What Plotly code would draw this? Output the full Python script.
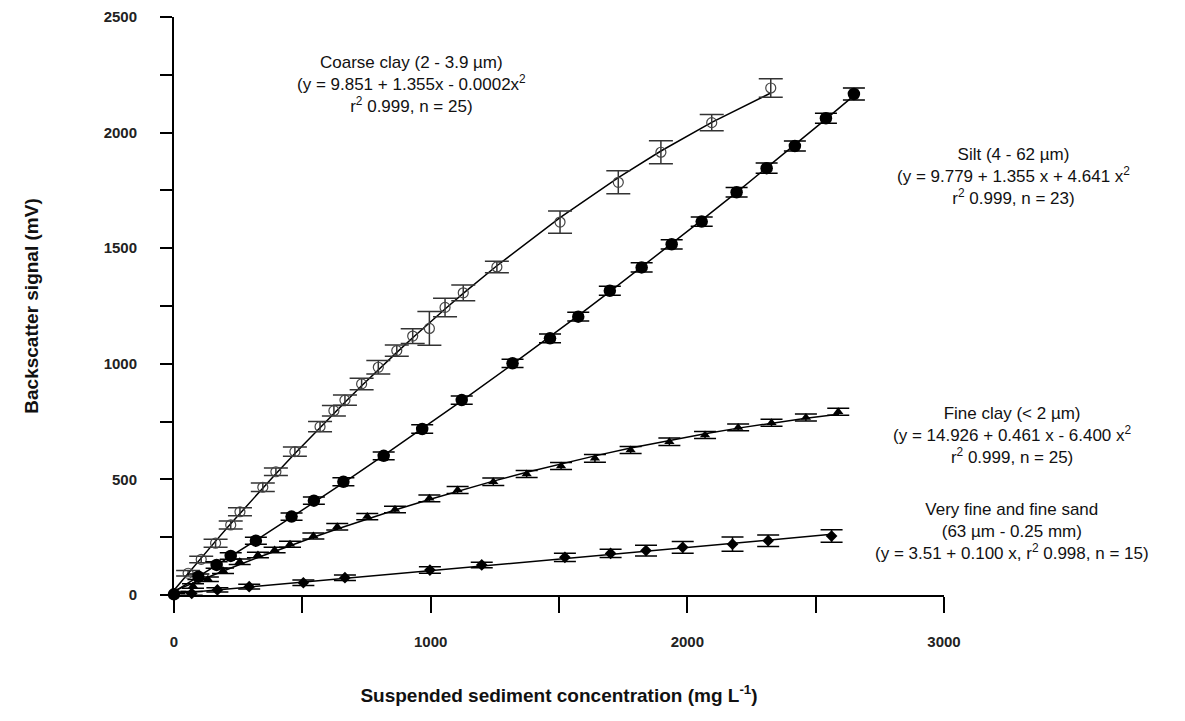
import numpy as np
import plotly.graph_objects as go

# ---- data ----
coarse_x = [0, 55, 106, 162, 221, 257, 346, 397, 471, 569, 623, 666, 731, 796, 868, 930, 995, 1056, 1127, 1258, 1504, 1731, 1897, 2095, 2325]
coarse_y = [5, 94, 154, 224, 303, 360, 466, 533, 620, 728, 797, 843, 913, 985, 1057, 1120, 1153, 1244, 1307, 1419, 1613, 1785, 1915, 2043, 2193]
coarse_err = [10, 12, 14, 17, 17, 17, 18, 16, 20, 22, 23, 22, 25, 29, 24, 32, 73, 40, 34, 25, 48, 50, 50, 35, 40]

silt_x = [0, 95, 166, 221, 319, 458, 545, 660, 817, 967, 1121, 1319, 1465, 1575, 1698, 1822, 1939, 2056, 2192, 2309, 2419, 2540, 2649]
silt_y = [3, 79, 130, 169, 235, 339, 408, 490, 602, 718, 843, 1002, 1110, 1204, 1316, 1417, 1517, 1615, 1742, 1846, 1942, 2062, 2167]
silt_err = [8, 12, 14, 14, 15, 16, 16, 17, 17, 18, 18, 18, 19, 19, 19, 20, 20, 20, 21, 22, 22, 22, 26]

fine_x = [0, 74, 132, 191, 256, 327, 392, 452, 543, 636, 753, 861, 995, 1105, 1244, 1374, 1508, 1640, 1779, 1930, 2069, 2198, 2328, 2462, 2588]
fine_y = [2, 39, 68, 105, 144, 173, 195, 219, 255, 295, 339, 370, 418, 454, 490, 523, 558, 591, 627, 663, 692, 725, 745, 768, 793]
fine_err = [8, 10, 10, 12, 12, 12, 12, 13, 13, 14, 14, 14, 15, 15, 16, 15, 15, 17, 15, 16, 15, 15, 15, 15, 15]

sand_x = [0, 69, 169, 293, 504, 666, 997, 1199, 1523, 1701, 1839, 1982, 2176, 2315, 2562]
sand_y = [0, 7, 22, 36, 53, 75, 108, 130, 163, 180, 192, 206, 220, 235, 255]
sand_err = [6, 8, 9, 10, 12, 12, 14, 12, 18, 18, 23, 25, 31, 25, 27]

x_ticks = [0, 1000, 2000, 3000]
y_ticks = [0, 500, 1000, 1500, 2000, 2500]

# ---- figure ----
fig = go.Figure()

def fit_line(xs, ys, deg):
    xs = np.asarray(xs, dtype=float)
    c = np.polyfit(xs, np.asarray(ys, dtype=float), deg)
    return xs, np.polyval(c, xs)

series = [
    (coarse_x, coarse_y, coarse_err, 2, dict(symbol="circle-open", size=10, color="#444", line=dict(width=1.2, color="#444")), "#333", 12),
    (silt_x, silt_y, silt_err, 2, dict(symbol="circle", size=12.5, color="black"), "black", 11),
    (fine_x, fine_y, fine_err, 2, dict(symbol="triangle-up", size=9, color="black"), "black", 11),
    (sand_x, sand_y, sand_err, 1, dict(symbol="diamond", size=9, color="black"), "black", 11),
]

for xs, ys, err, deg, mk, ecol, ew in series:
    fx, fy = fit_line(xs, ys, deg)
    fig.add_trace(go.Scatter(x=fx, y=fy, mode="lines", line=dict(color="black", width=1.5),
                             showlegend=False, hoverinfo="skip", cliponaxis=False))
    fig.add_trace(go.Scatter(x=xs, y=ys, mode="markers", marker=mk,
                             error_y=dict(type="data", array=err, visible=True, color=ecol, thickness=1.5, width=ew),
                             showlegend=False, cliponaxis=False))

# ---- annotations (labels for each curve) ----
PLOT_L, PLOT_T, PLOT_W, PLOT_H = 174, 17, 770, 578   # target plot box on screen

def px2paper(px, py):
    return (px - PLOT_L) / PLOT_W, (PLOT_T + PLOT_H - py) / PLOT_H

ann_font = dict(family="Liberation Sans, Arial, sans-serif", size=17, color="#111")
labels = [
    (411, 84, "Coarse clay (2 - 3.9 µm)<br>(y = 9.851 + 1.355x - 0.0002x<sup>2</sup><br>r<sup>2</sup> 0.999, n = 25)"),
    (1014, 176, "Silt (4 - 62 µm)<br>(y = 9.779 + 1.355 x + 4.641 x<sup>2</sup><br>r<sup>2</sup> 0.999, n = 23)"),
    (1012, 435, "Fine clay (< 2 µm)<br>(y = 14.926 + 0.461 x - 6.400 x<sup>2</sup><br>r<sup>2</sup> 0.999, n = 25)"),
    (1012, 531, "Very fine and fine sand<br>(63 µm - 0.25 mm)<br>(y = 3.51 + 0.100 x, r<sup>2</sup> 0.998, n = 15)"),
]
for px, py, txt in labels:
    xp, yp = px2paper(px, py)
    fig.add_annotation(x=xp, y=yp, xref="paper", yref="paper", text=txt, showarrow=False,
                       xanchor="center", yanchor="middle", align="center", font=ann_font)

tick_font = dict(family="Liberation Sans, Arial, sans-serif", size=15, color="#222", weight="bold")
title_font = dict(family="Liberation Sans, Arial, sans-serif", size=19, color="#111", weight="bold")

fig.update_xaxes(range=[0, 3000], tickvals=x_ticks, ticktext=[str(v) for v in x_ticks],
                 showline=True, linecolor="black", linewidth=2, ticks="outside", ticklen=16,
                 tickwidth=2, tickcolor="black", tickfont=tick_font, showgrid=False, zeroline=False,
                 minor=dict(dtick=500, tick0=0, ticks="outside", ticklen=16, tickwidth=2, tickcolor="black", showgrid=False),
                 ticklabelstandoff=16, automargin=False,
                 title=dict(text="Suspended sediment concentration (mg L<sup>-1</sup>)", font=title_font, standoff=40))
fig.update_yaxes(range=[0, 2500], tickvals=y_ticks, ticktext=[str(v) for v in y_ticks],
                 showline=True, linecolor="black", linewidth=2, ticks="outside", ticklen=12,
                 tickwidth=2, tickcolor="black", tickfont=tick_font, showgrid=False, zeroline=False,
                 minor=dict(dtick=250, tick0=0, ticks="outside", ticklen=12, tickwidth=2, tickcolor="black", showgrid=False),
                 ticklabelstandoff=20, automargin=False,
                 title=dict(text="Backscatter signal (mV)", font=title_font, standoff=60))

# the page body adds an 8 px offset, so the margins are reduced accordingly
OFF = 8
W, H = 1185, 721
fig.update_layout(width=W, height=H, paper_bgcolor="white", plot_bgcolor="white",
                  margin=dict(l=PLOT_L - OFF, r=W - (PLOT_L - OFF) - PLOT_W, t=PLOT_T - OFF,
                              b=H - (PLOT_T - OFF) - PLOT_H, autoexpand=False),
                  showlegend=False)

fig.write_html("out.html")
